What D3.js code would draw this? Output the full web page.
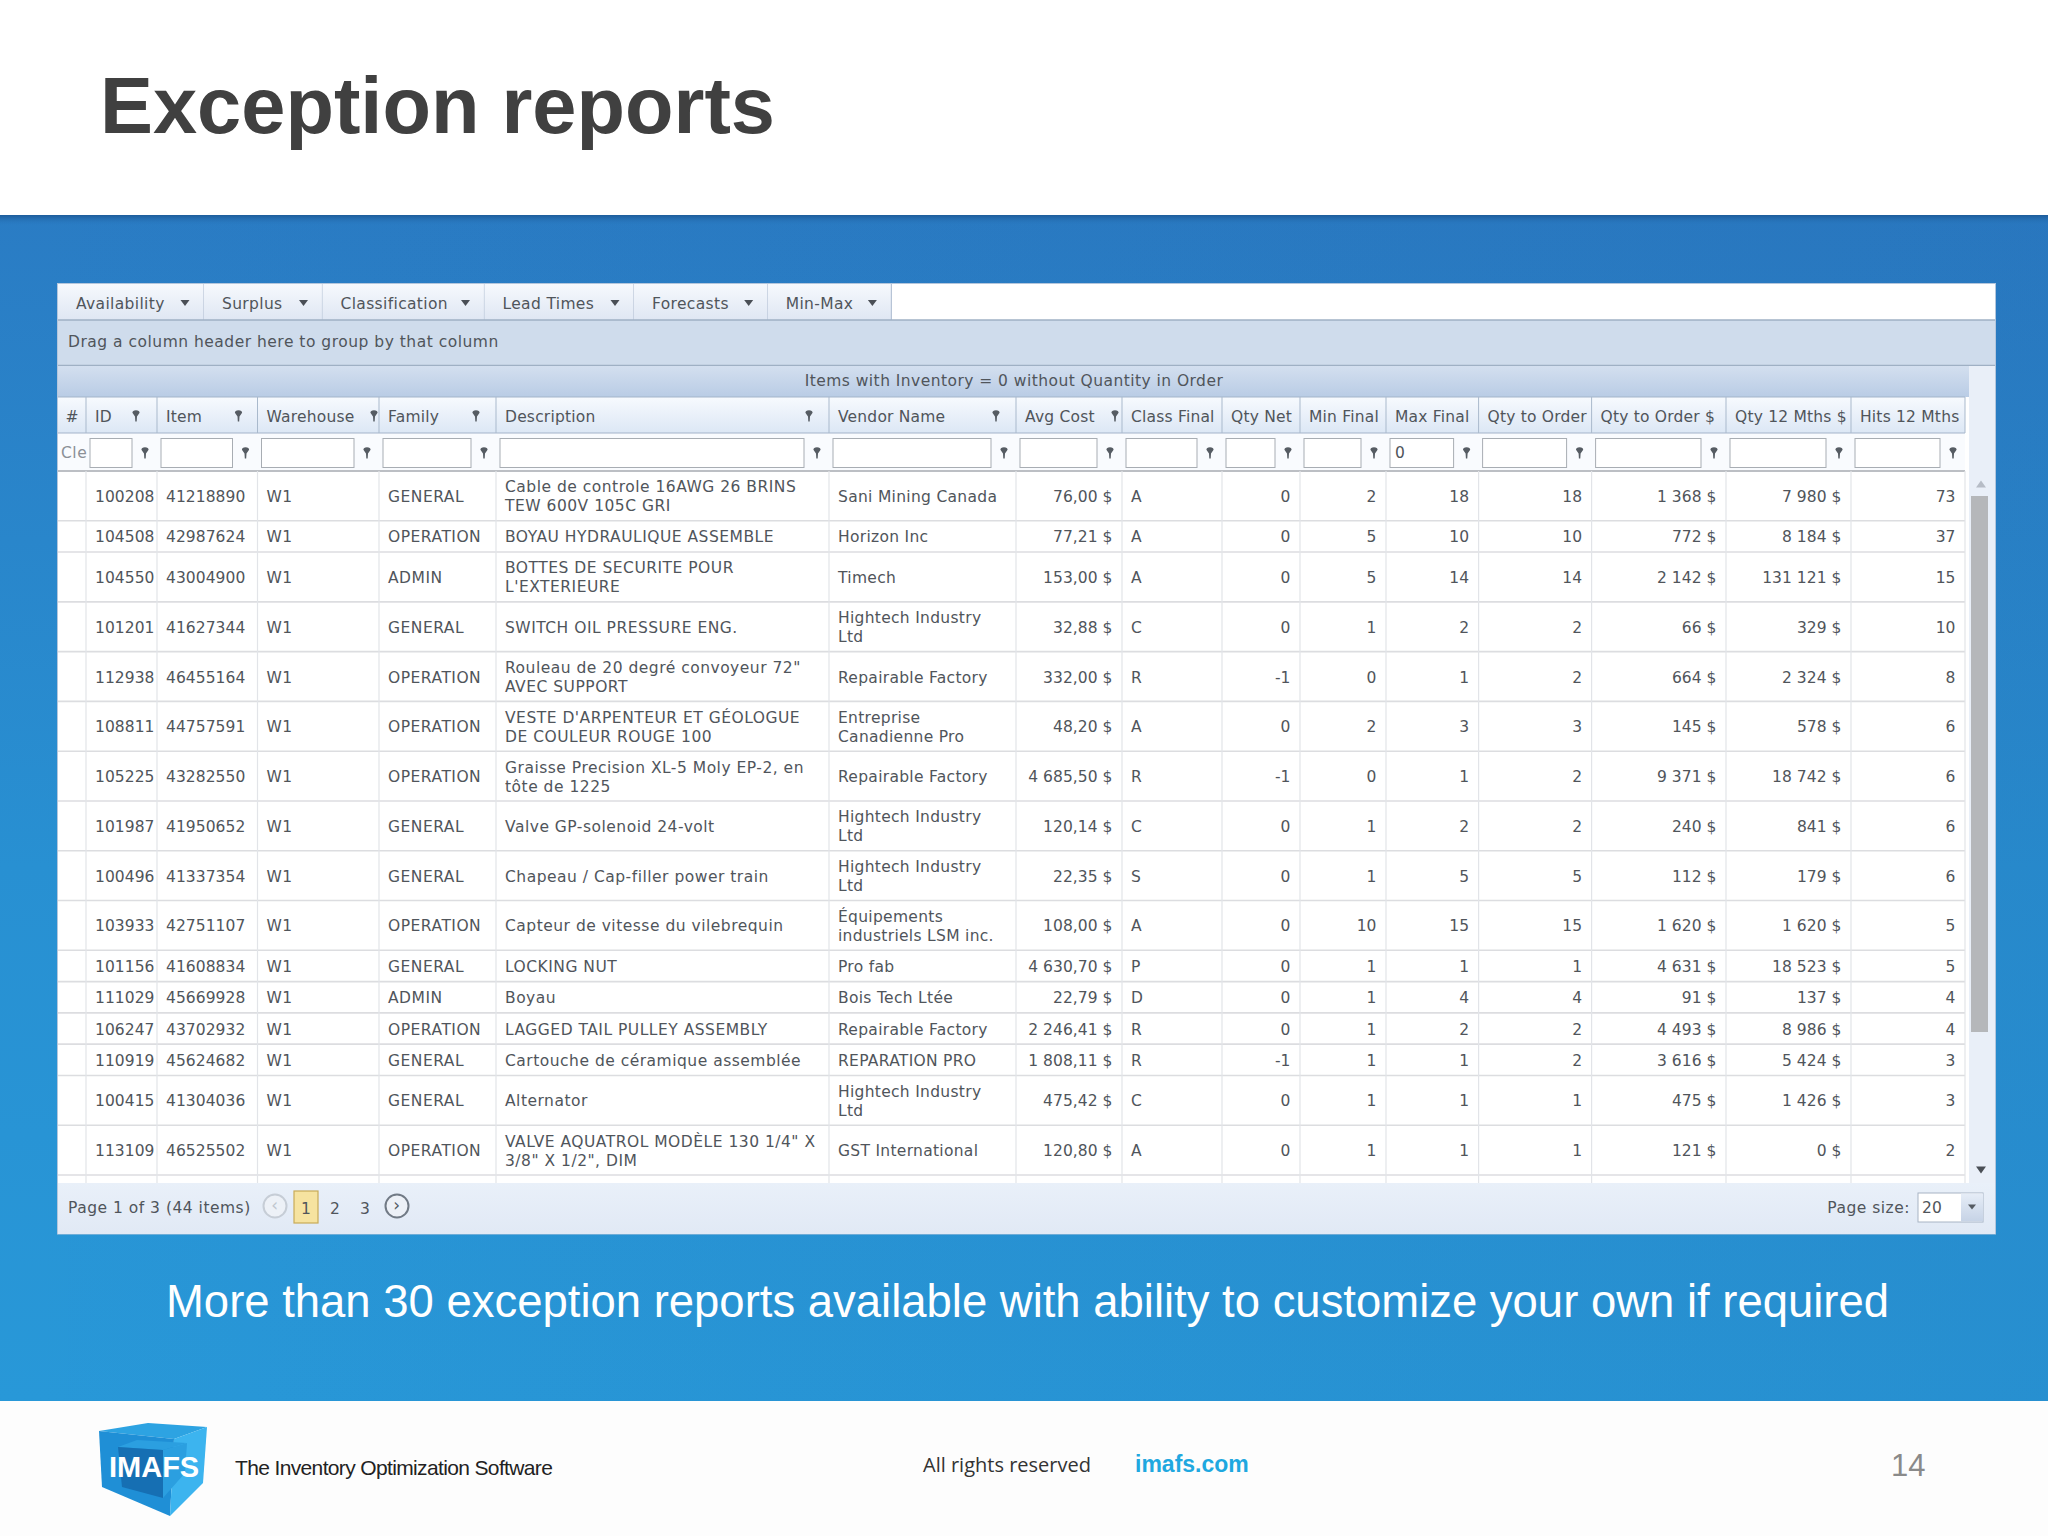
<!DOCTYPE html>
<html><head><meta charset="utf-8"><title>Exception reports</title>
<script src="https://cdn.jsdelivr.net/npm/d3@7"></script>
<style>html,body{margin:0;padding:0;background:#fff}svg{display:block}</style></head><body>
<svg id="c" width="2048" height="1536"></svg>
<script>
const tabs = ["Availability","Surplus","Classification","Lead Times","Forecasts","Min-Max"];
const columns = ["#","ID","Item","Warehouse","Family","Description","Vendor Name","Avg Cost","Class Final","Qty Net","Min Final","Max Final","Qty to Order","Qty to Order $","Qty 12 Mths $","Hits 12 Mths"];
const ids = [100208,104508,104550,101201,112938,108811,105225,101987,100496,103933,101156,111029,106247,110919,100415,113109];
const items = [41218890,42987624,43004900,41627344,46455164,44757591,43282550,41950652,41337354,42751107,41608834,45669928,43702932,45624682,41304036,46525502];
const warehouses = Array.from(ids, () => "W1");
const families = ["GENERAL","OPERATION","ADMIN","GENERAL","OPERATION","OPERATION","OPERATION","GENERAL","GENERAL","OPERATION","GENERAL","ADMIN","OPERATION","GENERAL","GENERAL","OPERATION"];
const descriptions = ["Cable de controle 16AWG 26 BRINS\nTEW 600V 105C GRI","BOYAU HYDRAULIQUE ASSEMBLE","BOTTES DE SECURITE POUR\nL'EXTERIEURE","SWITCH OIL PRESSURE ENG.","Rouleau de 20 degré convoyeur 72\"\nAVEC SUPPORT","VESTE D'ARPENTEUR ET GÉOLOGUE\nDE COULEUR ROUGE 100","Graisse Precision XL-5 Moly EP-2, en\ntôte de 1225","Valve GP-solenoid 24-volt","Chapeau / Cap-filler power train","Capteur de vitesse du vilebrequin","LOCKING NUT","Boyau","LAGGED TAIL PULLEY ASSEMBLY","Cartouche de céramique assemblée","Alternator","VALVE AQUATROL MODÈLE 130 1/4\" X\n3/8\" X 1/2\", DIM"];
const vendors = ["Sani Mining Canada","Horizon Inc","Timech","Hightech Industry\nLtd","Repairable Factory","Entreprise\nCanadienne Pro","Repairable Factory","Hightech Industry\nLtd","Hightech Industry\nLtd","Équipements\nindustriels LSM inc.","Pro fab","Bois Tech Ltée","Repairable Factory","REPARATION PRO","Hightech Industry\nLtd","GST International"];
const avgCost = [76.00,77.21,153.00,32.88,332.00,48.20,4685.50,120.14,22.35,108.00,4630.70,22.79,2246.41,1808.11,475.42,120.80];
const classFinal = ["A","A","A","C","R","A","R","C","S","A","P","D","R","R","C","A"];
const qtyNet = [0,0,0,0,-1,0,-1,0,0,0,0,0,0,-1,0,0];
const minFinal = [2,5,5,1,0,2,0,1,1,10,1,1,1,1,1,1];
const maxFinal = [18,10,14,2,1,3,1,2,5,15,1,4,2,1,1,1];
const qtyToOrder = [18,10,14,2,2,3,2,2,5,15,1,4,2,2,1,1];
const qtyToOrderValue = [1368,772,2142,66,664,145,9371,240,112,1620,4631,91,4493,3616,475,121];
const qty12Mths = [7980,8184,131121,329,2324,578,18742,841,179,1620,18523,137,8986,5424,1426,0];
const hits12Mths = [73,37,15,10,8,6,6,6,6,5,5,4,4,3,3,2];

const UI = "'DejaVu Sans', sans-serif", AR = "'Liberation Sans', Arial, sans-serif";
const TABF = 15.5;
const TXT = "#50555b";
const svg = d3.select("#c");
const defs = svg.append("defs");
function grad(id, stops, x2=0, y2=1){
  const g = defs.append("linearGradient").attr("id",id).attr("x1",0).attr("y1",0).attr("x2",x2).attr("y2",y2);
  stops.forEach(([o,c]) => g.append("stop").attr("offset",o).attr("stop-color",c));
}
grad("bg",[[0,"#2a7cc4"],[.55,"#2890d2"],[1,"#2898d8"]],0,1);
grad("bgR",[[0,"rgba(30,70,140,0)"],[1,"rgba(30,70,140,.10)"]],1,0);
grad("shadow",[[0,"#1d5c9a"],[1,"rgba(42,124,196,0)"]]);
grad("tab",[[0,"#f6f9fd"],[1,"#dfe7f3"]]);
grad("title",[[0,"#d3dfef"],[1,"#b9cce5"]]);
grad("head",[[0,"#f7fafe"],[1,"#dce7f5"]]);
grad("pager",[[0,"#e9f0f9"],[1,"#e1e9f5"]]);
grad("drop",[[0,"#e6edf7"],[1,"#c6d3e6"]]);

function rect(x,y,w,h,fill,stroke,sw){
  return svg.append("rect").attr("x",x).attr("y",y).attr("width",w).attr("height",h).attr("fill",fill).attr("stroke",stroke||"none").attr("stroke-width",sw||0);
}
function text(s,x,y,size,opts={}){
  const isUI = !opts.font;
  const numeric = /^[\d\s,$-]+$/.test(String(s));
  const ls = opts.ls || (isUI ? (numeric ? "0.05" : "0.5") : null);
  return svg.append("text").attr("x",x).attr("y",y).attr("font-size",size).attr("font-family",opts.font||UI)
    .attr("fill",opts.fill||TXT).attr("font-weight",opts.weight||"normal").attr("text-anchor",opts.anchor||"start")
    .attr("letter-spacing",ls).text(s);
}
function tri(cx,cy,w,h,fill,up){
  const s = up?-1:1;
  svg.append("path").attr("d",`M${cx-w/2},${cy-s*h/2}L${cx+w/2},${cy-s*h/2}L${cx},${cy+s*h/2}Z`).attr("fill",fill);
}
function funnel(cx,cy){
  svg.append("path").attr("d",`M${cx-3.6},${cy-3.2}A3.6,2.6 0 1 1 ${cx+3.6},${cy-3.2}L${cx+1},${cy+.6}L${cx+.7},${cy+5.5}L${cx-.7},${cy+5.5}L${cx-1},${cy+.6}Z`).attr("fill","#565c63");
}

// slide background
rect(0,0,2048,1536,"#ffffff");
rect(0,215,2048,1186,"url(#bg)");
rect(0,215,2048,1186,"url(#bgR)");
rect(0,215,2048,11,"url(#shadow)");
rect(0,1401,2048,135,"#fdfdfd");
text("Exception reports",100,133,79.4,{font:AR,weight:"bold",fill:"#404040"});

// widget frame
rect(57.5,283.5,1938,950.5,"#ffffff","#b4c6dc",1);

// tabs
const tabEdges = [58,204,322.5,484.5,634,767.7,891.4];
const tabX = d3.scaleOrdinal(tabs, tabEdges);
tabs.forEach((t,i)=>{
  const x0=tabX(t), x1=tabEdges[i+1];
  rect(x0,284,x1-x0,36,"url(#tab)");
  svg.append("line").attr("x1",x1).attr("x2",x1).attr("y1",284).attr("y2",320).attr("stroke","#b7c4d6").attr("stroke-width",1.2);
  text(t,x0+18,309,TABF,{ls:"0.35"});
  tri(x1-19,303,9,6,"#4a4f56");
});

// group panel and title
rect(58,320,1937,46,"#cfdcec");
svg.append("line").attr("x1",58).attr("x2",1995).attr("y1",320).attr("y2",320).attr("stroke","#9fb0c4").attr("stroke-width",1.5);
svg.append("line").attr("x1",58).attr("x2",1995).attr("y1",365.5).attr("y2",365.5).attr("stroke","#9fb0c4").attr("stroke-width",1.5);
text("Drag a column header here to group by that column",68,347,TABF);
rect(1969,366,26,817,"#e9eff8");
rect(58,366,1911,31,"url(#title)");
text("Items with Inventory = 0 without Quantity in Order",1014,386,TABF,{anchor:"middle",ls:"0.45"});

// columns
const colEdges = [58,86,157,257.5,379,496,829,1016,1122,1222,1300,1386,1478.6,1591.6,1726,1851,1965];
const xLeft = d3.scaleOrdinal(columns, colEdges);
const xRight = d3.scaleOrdinal(columns, colEdges.slice(1));
const headFunnelGap = [null,21,19,5,20,20,20,7,null,null,null,null,null,null,null,null];

rect(58,397,1907,36,"url(#head)");
rect(58,433,1907,38,"#f9fbfe");
svg.append("line").attr("x1",58).attr("x2",1965).attr("y1",397).attr("y2",397).attr("stroke","#a3b4c9").attr("stroke-width",1);
svg.append("line").attr("x1",58).attr("x2",1965).attr("y1",433).attr("y2",433).attr("stroke","#a3b4c9").attr("stroke-width",1.2);
svg.append("line").attr("x1",58).attr("x2",1965).attr("y1",471).attr("y2",471).attr("stroke","#bcbfc4").attr("stroke-width",2);

columns.forEach((c,i)=>{
  const l=xLeft(c), r=xRight(c);
  svg.append("line").attr("x1",r).attr("x2",r).attr("y1",397).attr("y2",433).attr("stroke","#a9b9cc").attr("stroke-width",1);
  text(c,i===0?(l+r)/2:l+9,421.5,TABF,{anchor:i===0?"middle":"start",ls:"0.2"});
  if(headFunnelGap[i]!==null) funnel(r-headFunnelGap[i],416);
  if(i===0){ text("Cle",61,458,TABF,{fill:"#8b9097"}); return; }
  rect(l+4,438.5,r-l-29,29,"#ffffff","#a8adb3",1);
  funnel(r-12,453);
  if(c==="Max Final") text("0",l+9,458,TABF);
});

// rows: a one-line row is the unit; two-line rows are taller
const lineCount = d => Math.max(descriptions[d].split("\n").length, vendors[d].split("\n").length);
const rowUnits = ids.map((_,i)=> lineCount(i)===2 ? 49.8/31.3 : 1);
const tops = [0, ...d3.cumsum(rowUnits)];
const y = d3.scaleLinear().domain([0, tops[tops.length-1]]).range([471,1175]);

const fr = d3.formatLocale({decimal:",",thousands:"\u00a0",grouping:[3],currency:["","\u00a0$"]});
const f2 = fr.format("$,.2f"), f0 = fr.format("$,.0f");
const cells = [
  ["ID",ids,"end-tight"],["Item",items,"start"],["Warehouse",warehouses,"start"],["Family",families,"start"],
  ["Description",descriptions,"start"],["Vendor Name",vendors,"start"],["Avg Cost",avgCost.map(f2),"end"],
  ["Class Final",classFinal,"start"],["Qty Net",qtyNet,"end"],["Min Final",minFinal,"end"],["Max Final",maxFinal,"end"],
  ["Qty to Order",qtyToOrder,"end"],["Qty to Order $",qtyToOrderValue.map(f0),"end"],["Qty 12 Mths $",qty12Mths.map(f0),"end"],["Hits 12 Mths",hits12Mths,"end"]
];
ids.forEach((_,i)=>{
  const yb=y(tops[i+1]);
  svg.append("line").attr("x1",58).attr("x2",1965).attr("y1",yb).attr("y2",yb).attr("stroke","#dcdde0").attr("stroke-width",1.6);
});
columns.forEach(c=>{
  const r=xRight(c);
  svg.append("line").attr("x1",r).attr("x2",r).attr("y1",471).attr("y2",1183).attr("stroke","#e2e4e8").attr("stroke-width",1.2);
});
cells.forEach(([c,vals,al])=>{
  vals.forEach((v,i)=>{
    const cy=(y(tops[i])+y(tops[i+1]))/2;
    const lines=String(v).split("\n");
    lines.forEach((ln,k)=>{
      const by=cy+6+(k-(lines.length-1)/2)*19;
      const opt = c==="Vendor Name" ? {ls:"0.3"} : {};
      if(al==="start") text(ln,xLeft(c)+9,by,TABF,opt);
      else text(ln,xRight(c)-(al==="end"?9.5:2.5),by,TABF,{anchor:"end"});
    });
  });
});

// scrollbar
tri(1981,484,10,7,"#b6bcc6",true);
rect(1971,496,17,536,"#b5b7ba");
tri(1981,1170,10,7,"#4a4f56");

// pager
rect(58,1183,1937,51,"url(#pager)");
text("Page 1 of 3 (44 items)",68,1213,TABF);
svg.append("circle").attr("cx",275).attr("cy",1206).attr("r",11.5).attr("fill","#edf1f7").attr("stroke","#c6cdd6").attr("stroke-width",2);
text("\u2039",275,1211,17,{anchor:"middle",fill:"#c0c6cf"});
rect(294,1191,24,32,"#f6e3a0","#c9ab58",1.2);
text("1",306,1214,TABF,{anchor:"middle"});
text("2",335,1214,TABF,{anchor:"middle"});
text("3",365,1214,TABF,{anchor:"middle"});
svg.append("circle").attr("cx",397).attr("cy",1206).attr("r",11.5).attr("fill","#edf1f7").attr("stroke","#717a85").attr("stroke-width",2);
text("\u203A",397,1211,17,{anchor:"middle",fill:"#555b62"});
text("Page size:",1910,1213,TABF,{anchor:"end"});
rect(1918,1193,65,29,"#ffffff","#a8b4c4",1);
rect(1961,1193.5,22,28,"url(#drop)");
text("20",1922,1213,TABF);
tri(1972,1207,8,5,"#555b62");

// caption
text("More than 30 exception reports available with ability to customize your own if required",166,1317,45.46,{font:AR,fill:"#ffffff"});

// footer
const P = pts => pts.map(p=>p.join(",")).join(" ");
svg.append("polygon").attr("points",P([[99,1431],[148,1423],[207,1427],[174,1439]])).attr("fill","#2da3e2");
svg.append("polygon").attr("points",P([[99,1431],[174,1439],[170,1516],[102,1487]])).attr("fill","#1f8fd6");
svg.append("polygon").attr("points",P([[174,1439],[207,1427],[203,1483],[170,1516]])).attr("fill","#3cb4ef");
svg.append("polygon").attr("points",P([[118,1447],[137,1440],[187,1443],[163,1450]])).attr("fill","#2b9fe0");
svg.append("polygon").attr("points",P([[118,1447],[163,1450],[163,1498],[122,1487]])).attr("fill","#166fb3");
svg.append("polygon").attr("points",P([[163,1450],[187,1443],[185,1473],[163,1498]])).attr("fill","#2b9fe0");
text("IMAFS",109,1477,29,{font:AR,weight:"bold",fill:"#ffffff"});
text("The Inventory Optimization Software",235,1475,21,{font:AR,fill:"#222222",ls:"-0.64"});
text("All rights reserved",923,1472,20,{font:"'Open Sans', sans-serif",fill:"#333333"});
text("imafs.com",1135,1472,23,{font:AR,weight:"bold",fill:"#1fa8e0"});
text("14",1891,1476,31,{font:AR,fill:"#8a8a8a"});
</script>
</body></html>
